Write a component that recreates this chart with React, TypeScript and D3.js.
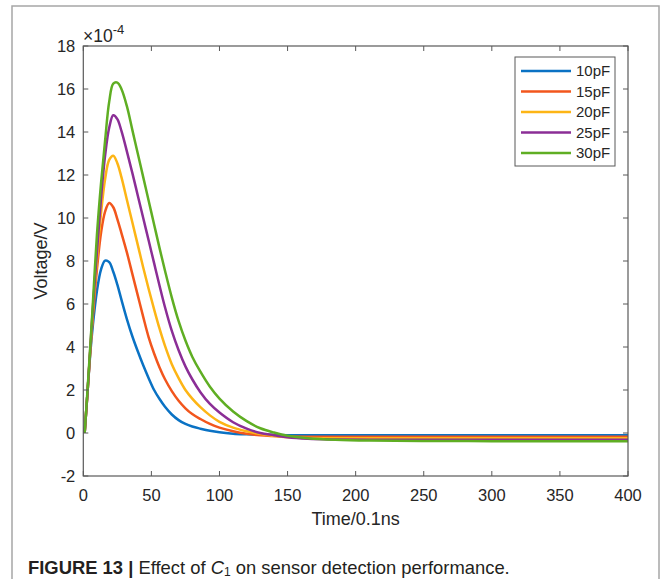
import React from "react";
import * as d3 from "d3";

const time = [1, 3, 5, 7, 10, 13, 16, 19, 22, 25, 28, 32, 36, 40, 44, 48, 52, 56, 60, 65, 70, 75, 80, 86, 93, 100, 110, 120, 130, 140, 150, 165, 185, 210, 250, 300, 350, 400];

const v10pF = [0, 1.8, 3.6, 5.0, 6.6, 7.6, 8.02, 7.95, 7.5, 6.9, 6.2, 5.3, 4.5, 3.8, 3.15, 2.55, 2.0, 1.58, 1.22, 0.86, 0.6, 0.42, 0.3, 0.2, 0.1, 0.03, -0.03, -0.06, -0.08, -0.09, -0.1, -0.1, -0.1, -0.1, -0.1, -0.1, -0.1, -0.1];
const v15pF = [0, 1.8, 3.7, 5.4, 7.6, 9.3, 10.3, 10.7, 10.5, 9.95, 9.3, 8.4, 7.4, 6.4, 5.4, 4.45, 3.7, 3.05, 2.5, 1.95, 1.5, 1.15, 0.88, 0.65, 0.42, 0.25, 0.08, -0.04, -0.11, -0.14, -0.16, -0.17, -0.17, -0.17, -0.17, -0.17, -0.17, -0.17];
const v20pF = [0, 1.8, 3.7, 5.6, 8.0, 10.2, 11.8, 12.7, 12.9, 12.55, 11.9, 10.85, 9.8, 8.75, 7.7, 6.7, 5.75, 4.85, 4.05, 3.2, 2.55, 2.0, 1.6, 1.2, 0.82, 0.52, 0.25, 0.08, -0.05, -0.14, -0.2, -0.23, -0.24, -0.24, -0.24, -0.24, -0.24, -0.24];
const v25pF = [0, 1.8, 3.8, 5.8, 8.4, 10.9, 12.9, 14.2, 14.78, 14.6, 14.05, 13.1, 12.1, 11.05, 10.0, 8.95, 7.9, 6.85, 5.85, 4.75, 3.85, 3.1, 2.5, 1.9, 1.35, 0.95, 0.5, 0.2, 0.0, -0.1, -0.2, -0.27, -0.3, -0.31, -0.31, -0.31, -0.31, -0.31];
const v30pF = [0, 1.9, 3.9, 6.0, 9.2, 11.6, 13.6, 15.4, 16.25, 16.3, 16.0, 15.2, 14.1, 13.0, 11.9, 10.8, 9.7, 8.6, 7.55, 6.3, 5.2, 4.3, 3.55, 2.85, 2.15, 1.6, 1.0, 0.55, 0.22, 0.02, -0.13, -0.24, -0.31, -0.35, -0.37, -0.38, -0.38, -0.38];

const seriesNames = ["10pF", "15pF", "20pF", "25pF", "30pF"];
const seriesValues = [v10pF, v15pF, v20pF, v25pF, v30pF];
const seriesColors = ["#0A72C4", "#F2561D", "#FDB515", "#8B2E96", "#5FAE23"];

const xTicks = [0, 50, 100, 150, 200, 250, 300, 350, 400];
const yTicks = [-2, 0, 2, 4, 6, 8, 10, 12, 14, 16, 18];

const W = 664;
const H = 579;
const left = 83.3;
const right = 628;
const top = 46;
const bottom = 476;

export default function App() {
  const x = d3.scaleLinear().domain([0, 400]).range([left, right]);
  const y = d3.scaleLinear().domain([-2, 18]).range([bottom, top]);
  const line = d3
    .line<[number, number]>()
    .x((d) => x(d[0]))
    .y((d) => y(d[1]))
    .curve(d3.curveCatmullRom.alpha(0.5));

  const axisColor = "#595959";
  const textColor = "#262626";
  const font = "'Liberation Sans', Arial, Helvetica, sans-serif";
  const tick = 5;

  return (
    <svg
      width={W}
      height={H}
      style={{ position: "absolute", left: 0, top: 0, background: "#fff" }}
      fontFamily={font}
    >
      <defs>
        <clipPath id="plotclip">
          <rect x={left} y={top} width={right - left} height={bottom - top} />
        </clipPath>
      </defs>
      <rect x={0} y={0} width={W} height={H} fill="#fff" />
      {/* figure frame */}
      <path d={`M12,${H} L12,6 L659,6 L659,${H}`} fill="none" stroke="#a6a6a6" strokeWidth={1.5} />

      {/* curves */}
      <g clipPath="url(#plotclip)">
        {seriesValues.map((vals, i) => (
          <path
            key={seriesNames[i]}
            d={line(time.map((t, j) => [t, vals[j]] as [number, number])) || ""}
            fill="none"
            stroke={seriesColors[i]}
            strokeWidth={2.5}
            strokeLinejoin="round"
          />
        ))}
      </g>

      {/* axes box */}
      <rect x={left} y={top} width={right - left} height={bottom - top} fill="none" stroke={axisColor} strokeWidth={1.2} />

      {/* x ticks */}
      {xTicks.map((t) => (
        <g key={"x" + t}>
          <line x1={x(t)} x2={x(t)} y1={bottom} y2={bottom - tick} stroke={axisColor} strokeWidth={1} />
          <line x1={x(t)} x2={x(t)} y1={top} y2={top + tick} stroke={axisColor} strokeWidth={1} />
          <text x={x(t)} y={bottom + 25} textAnchor="middle" fontSize={16.5} fill={textColor}>
            {t}
          </text>
        </g>
      ))}

      {/* y ticks */}
      {yTicks.map((t) => (
        <g key={"y" + t}>
          <line x1={left} x2={left + tick} y1={y(t)} y2={y(t)} stroke={axisColor} strokeWidth={1} />
          <line x1={right} x2={right - tick} y1={y(t)} y2={y(t)} stroke={axisColor} strokeWidth={1} />
          <text x={left - 8} y={y(t) + 6} textAnchor="end" fontSize={16.5} fill={textColor}>
            {t}
          </text>
        </g>
      ))}

      {/* exponent */}
      <text x={83} y={41.5} fontSize={17.5} fill={textColor}>
        ×10
        <tspan dy={-8} fontSize={13}>
          -4
        </tspan>
      </text>

      {/* axis labels */}
      <text x={(left + right) / 2} y={525} textAnchor="middle" fontSize={18} fill={textColor}>
        Time/0.1ns
      </text>
      <text
        transform={`translate(47, ${(top + bottom) / 2}) rotate(-90)`}
        textAnchor="middle"
        fontSize={18}
        fill={textColor}
      >
        Voltage/V
      </text>

      {/* legend */}
      <rect x={515} y={57} width={100} height={109} fill="#fff" stroke={axisColor} strokeWidth={1} />
      {seriesNames.map((n, i) => {
        const ly = 71 + i * 20.5;
        return (
          <g key={"lg" + n}>
            <line x1={521} x2={571} y1={ly} y2={ly} stroke={seriesColors[i]} strokeWidth={2.5} />
            <text x={576} y={ly + 5} fontSize={15} fill={textColor}>
              {n}
            </text>
          </g>
        );
      })}

      {/* caption */}
      <text x={28} y={573.5} fontSize={18.4} fill="#231f20">
        <tspan fontWeight="bold">FIGURE 13 | </tspan>
        <tspan>Effect of </tspan>
        <tspan fontStyle="italic">C</tspan>
        <tspan dy={2.5} fontSize={12}>
          1
        </tspan>
        <tspan dy={-2.5}> on sensor detection performance.</tspan>
      </text>
    </svg>
  );
}
